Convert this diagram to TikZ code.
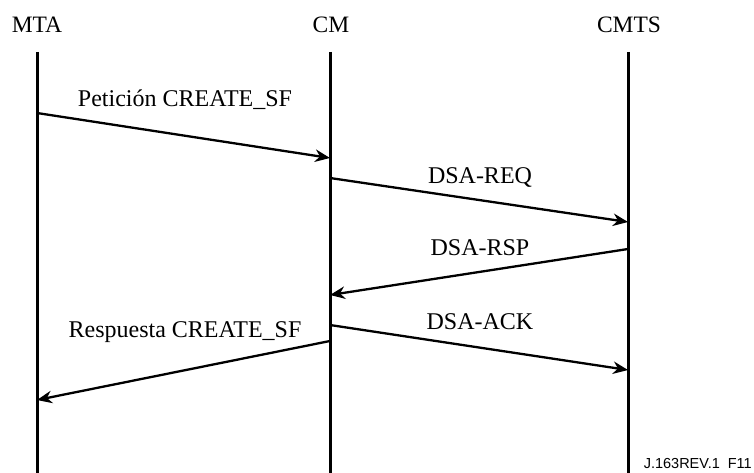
\documentclass[tikz,border=0pt]{standalone}
\usepackage{fontspec}
\setmainfont{Liberation Serif}
\setsansfont{Liberation Sans}
\usetikzlibrary{arrows.meta}
\usetikzlibrary{positioning}

\begin{document}
\begin{tikzpicture}[x=1pt,y=-1pt,>={Stealth[length=15pt,width=12.5pt]},
    font=\fontsize{24}{27}\selectfont,
    lifeline/.style={line width=3pt},
    msg/.style={->,line width=2.3pt},
    lbl/.style={anchor=base,inner sep=0pt}]
    \useasboundingbox (0,0) rectangle (754,473);

    % entities
    \node[lbl,font=\fontsize{23.5}{26}\selectfont] (mta) at (37,33) {MTA};
    \node[lbl,font=\fontsize{23.5}{26}\selectfont] (cm) at (331,33) {CM};
    \node[lbl,font=\fontsize{23.5}{26}\selectfont] (cmts) at (629,33) {CMTS};

    \coordinate (mtatop) at (37,52);
    \coordinate (mtabot) at (37,473);
    \coordinate (cmtop) at (330,52);
    \coordinate (cmbot) at (330,473);
    \coordinate (cmtstop) at (628,52);
    \coordinate (cmtsbot) at (628,473);

    \draw[lifeline] (mtatop) -- (mtabot);
    \draw[lifeline] (cmtop) -- (cmbot);
    \draw[lifeline] (cmtstop) -- (cmtsbot);

    % message ends
    \coordinate (mta1) at (37,113);
    \coordinate (cm1) at (330,158);
    \coordinate (cm2) at (330,178);
    \coordinate (cmts2) at (628,222);
    \coordinate (cmts3) at (628,249);
    \coordinate (cm3) at (330,295);
    \coordinate (cm4) at (330,325);
    \coordinate (cmts4) at (628,370);
    \coordinate (cm5) at (330,341);
    \coordinate (mta5) at (37,400);

    \draw[msg] (mta1) -- (cm1);
    \draw[msg] (cm2) -- (cmts2);
    \draw[msg] (cmts3) -- (cm3);
    \draw[msg] (cm4) -- (cmts4);
    \draw[msg] (cm5) -- (mta5);

    \node[lbl] (peticion) at (185,107) {Petición CREATE\_SF};
    \node[lbl] (dsareq) at (480,183) {DSA-REQ};
    \node[lbl] (dsarsp) at (480,255) {DSA-RSP};
    \node[lbl] (dsaack) at (480,329) {DSA-ACK};
    \node[lbl] (respuesta) at (185,337) {Respuesta CREATE\_SF};

    \node[anchor=base east,inner sep=0pt,font=\sffamily\fontsize{14.5}{16}\selectfont] (figid) at (752,468) {J.163REV.1\ \ F11};
\end{tikzpicture}
\end{document}
